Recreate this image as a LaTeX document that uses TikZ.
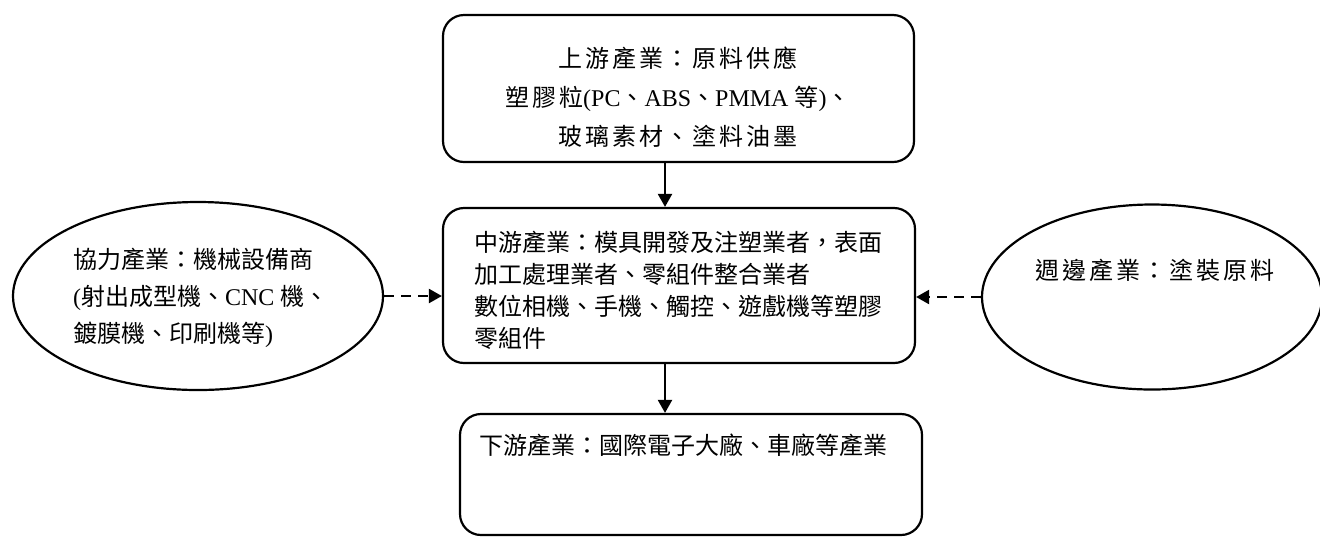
\documentclass[tikz,border=0pt]{standalone}
\usepackage{fontspec}
\setmainfont{Liberation Serif}
\newfontfamily\cjk{Noto Sans CJK TC}
\newfontfamily\cjkwide[LetterSpace=12]{Noto Sans CJK TC}
\usetikzlibrary{arrows.meta,shapes.geometric}

\begin{document}
\begin{tikzpicture}[x=0.5pt, y=-0.5pt, line width=1.1pt,
  box/.style={draw, rounded corners=10.5pt, inner sep=0pt},
  oval/.style={draw, ellipse, inner sep=0pt},
  txt/.style={inner sep=0pt, font=\cjk\fontsize{12}{16}\selectfont},
  side/.style={dash pattern=on 5pt off 3.5pt},
  >={Triangle[length=6.5pt,width=7pt]}]
\useasboundingbox (0,0) rectangle (1320,537);

\node[box, minimum width=235.5pt, minimum height=73.5pt] (up) at (678.5,88.5) {};
\node[box, minimum width=236pt, minimum height=77.5pt] (mid) at (679,285.5) {};
\node[box, minimum width=231pt, minimum height=60.5pt] (down) at (691,474.5) {};
\node[oval, minimum width=185pt, minimum height=94pt] (coop) at (198,296) {};
\node[oval, minimum width=170pt, minimum height=92.5pt] (peri) at (1152,297) {};

\node[txt, font=\cjkwide\fontsize{12}{19.5}\selectfont, align=center] (upt) at (678,97.5)
  {上游產業：原料供應\\塑膠粒{\rmfamily(PC}、{\rmfamily ABS}、{\rmfamily PMMA }等{\rmfamily)}、\\玻璃素材、塗料油墨};
\node[txt, anchor=west, align=left] (midt) at (473,290)
  {中游產業：模具開發及注塑業者，表面\\加工處理業者、零組件整合業者\\數位相機、手機、觸控、遊戲機等塑膠\\零組件};
\node[txt, anchor=west] (downt) at (478,445) {下游產業：國際電子大廠、車廠等產業};
\node[txt, font=\cjk\fontsize{12}{18.5}\selectfont, anchor=west, align=left] (coopt) at (72,298)
  {協力產業：機械設備商\\{\rmfamily(}射出成型機、{\rmfamily CNC }機、\\鍍膜機、印刷機等{\rmfamily)}};
\node[txt, font=\cjkwide\fontsize{12}{16}\selectfont] (perit) at (1155,270) {週邊產業：塗裝原料};

\coordinate (axis) at (665,0);
\draw[->] (up.south -| axis) -- (mid.north -| axis);
\draw[->] (mid.south -| axis) -- (down.north -| axis);
\draw[->, side] (coop.east) -- (coop.east -| mid.west);
\draw[->, side] (peri.west) -- (peri.west -| mid.east);
\end{tikzpicture}
\end{document}
